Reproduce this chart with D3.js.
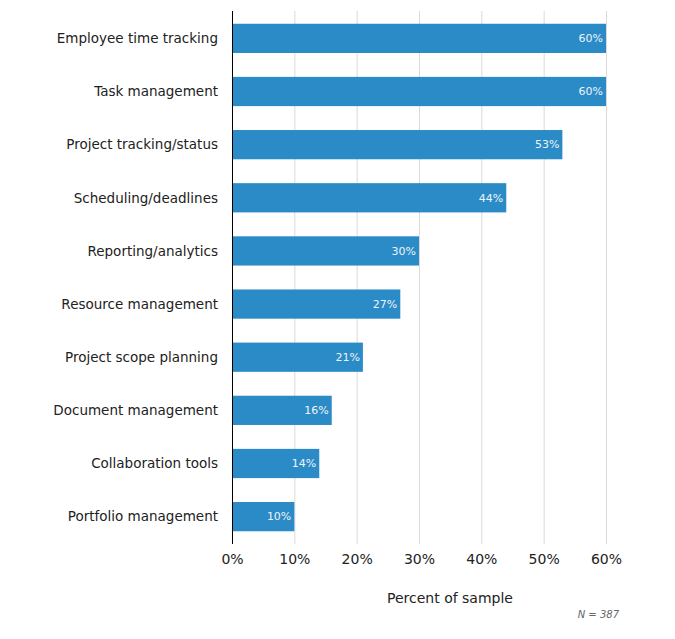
<!DOCTYPE html>
<html><head><meta charset="utf-8">
<script src="https://cdn.jsdelivr.net/npm/d3@7"></script>
<style>body{margin:0;background:#fff;}svg{display:block;font-family:"DejaVu Sans",Verdana,sans-serif;}</style>
</head><body><svg id="c" width="675" height="639"></svg>
<script>
const categories = ["Employee time tracking","Task management","Project tracking/status","Scheduling/deadlines","Reporting/analytics","Resource management","Project scope planning","Document management","Collaboration tools","Portfolio management"];
const values = [60,60,53,44,30,27,21,16,14,10];
const tickValues = [0,10,20,30,40,50,60];
const axisTitle = "Percent of sample";
const note = "N = 387";

const svg = d3.select("#c");
const x = d3.scaleLinear().domain([0,60]).range([232,606]);
const y = d3.scaleBand().domain(categories).range([11,544]).paddingInner(0.45).paddingOuter(0.24);

// gridlines
svg.append("g").selectAll("line").data(tickValues.filter(d=>d>0)).join("line")
  .attr("x1",d=>x(d)+0.5).attr("x2",d=>x(d)+0.5).attr("y1",11).attr("y2",544)
  .attr("stroke","#d9d9d9").attr("stroke-width",1);

// bars
svg.append("g").selectAll("rect").data(values).join("rect")
  .attr("x",x(0)).attr("y",(d,i)=>y(categories[i]))
  .attr("width",d=>x(d)-x(0)).attr("height",y.bandwidth())
  .attr("fill","#2a8bc6");

// value labels
svg.append("g").selectAll("text").data(values).join("text")
  .attr("x",d=>x(d)-3).attr("y",(d,i)=>y(categories[i])+y.bandwidth()/2)
  .attr("dy","0.35em").attr("text-anchor","end")
  .attr("font-size",11).attr("fill","#eef4fa").text(d=>d+"%");

// category labels
svg.append("g").selectAll("text").data(categories).join("text")
  .attr("x",218).attr("y",d=>y(d)+y.bandwidth()/2).attr("dy","0.35em")
  .attr("text-anchor","end").attr("font-size",13.5).attr("fill","#222").text(d=>d);

// y axis line
svg.append("line").attr("x1",232.5).attr("x2",232.5).attr("y1",11).attr("y2",544)
  .attr("stroke","#000").attr("stroke-width",1);

// x axis tick labels
const xAxis = d3.axisBottom(x).tickValues(tickValues).tickFormat(d=>d+"%").tickSize(0).tickPadding(0);
const gx = svg.append("g").attr("transform","translate(0,554)").call(xAxis);
gx.select(".domain").remove();
gx.selectAll("text").attr("font-size",14).attr("fill","#222").attr("font-family","DejaVu Sans, Verdana, sans-serif").attr("dy","0.71em");

svg.append("text").attr("x",450).attr("y",603).attr("text-anchor","middle")
  .attr("font-size",14).attr("fill","#222").text(axisTitle);
svg.append("text").attr("x",619).attr("y",618).attr("text-anchor","end")
  .attr("font-size",10).attr("font-style","italic").attr("fill","#666").text(note);
</script></body></html>
